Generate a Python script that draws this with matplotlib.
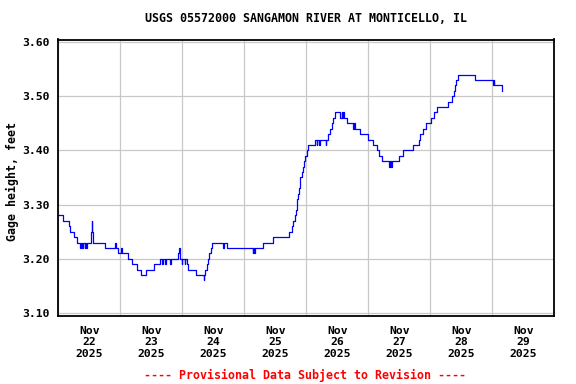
import matplotlib
matplotlib.use('Agg')
import matplotlib.pyplot as plt
import matplotlib.dates as mdates
from matplotlib.ticker import FuncFormatter, MultipleLocator
import datetime as dt

# Gage height step changes: hours after 2025-11-22 00:00 and value (feet)
hours = [0, 2.0, 4.0, 4.75, 6.25, 7.25, 8.5, 9.0, 9.25, 9.75, 10.25, 10.5, 10.75, 11.0,
         12.75, 13.0, 13.25, 13.5, 18.25, 22.0, 22.25, 23.25, 24.25, 24.5, 27.0, 28.75,
         30.5, 32.0, 34.0, 37.0, 39.25, 40.25, 40.5, 41.5, 41.75, 43.25, 43.5,
         46.5, 46.75, 47.0, 47.25, 47.75, 48.0, 49.0, 49.25, 49.75, 50.25, 53.25,
         56.25, 56.5, 57.0, 57.5, 58.0, 58.5, 59.0, 59.5, 63.75, 64.25, 65.25,
         75.25, 75.5, 75.75, 76.0, 79.25, 83.0, 89.5, 90.5, 91.0, 91.5, 92.0, 92.25,
         92.5, 93.0, 93.25, 93.5, 93.75, 94.25, 94.75, 95.25, 95.5, 96.25, 96.75,
         99.5, 100.0, 100.25, 101.0, 101.25, 103.5, 103.75, 104.5, 105.25, 106.0,
         106.5, 107.0, 109.0, 109.75, 110.0, 110.25, 110.5, 111.75, 114.25, 114.5,
         115.0, 116.75, 119.75, 122.0, 123.25, 124.25, 125.25, 128.0, 128.5, 128.75,
         129.0, 131.75, 133.5, 137.5, 139.5, 140.0, 141.25, 142.5, 144.25, 145.25,
         146.75, 150.75, 152.25, 153.0, 153.5, 154.0, 154.75, 161.25, 168.25, 168.5,
         168.75, 171.75]
values = [3.28, 3.27, 3.26, 3.25, 3.24, 3.23, 3.22, 3.23, 3.22, 3.23, 3.22, 3.23, 3.22, 3.23,
          3.25, 3.27, 3.25, 3.23, 3.22, 3.23, 3.22, 3.21, 3.22, 3.21, 3.20, 3.19,
          3.18, 3.17, 3.18, 3.19, 3.20, 3.19, 3.20, 3.19, 3.20, 3.19, 3.20,
          3.21, 3.22, 3.21, 3.20, 3.19, 3.20, 3.19, 3.20, 3.19, 3.18, 3.17,
          3.16, 3.17, 3.18, 3.19, 3.20, 3.21, 3.22, 3.23, 3.22, 3.23, 3.22,
          3.21, 3.22, 3.21, 3.22, 3.23, 3.24, 3.25, 3.26, 3.27, 3.28, 3.29, 3.30,
          3.31, 3.32, 3.33, 3.34, 3.35, 3.36, 3.37, 3.38, 3.39, 3.40, 3.41,
          3.42, 3.41, 3.42, 3.41, 3.42, 3.41, 3.42, 3.43, 3.44, 3.45,
          3.46, 3.47, 3.46, 3.47, 3.46, 3.47, 3.46, 3.45, 3.44, 3.45,
          3.44, 3.43, 3.42, 3.41, 3.40, 3.39, 3.38, 3.37, 3.38, 3.37,
          3.38, 3.39, 3.40, 3.41, 3.42, 3.43, 3.44, 3.45, 3.46, 3.47,
          3.48, 3.49, 3.50, 3.51, 3.52, 3.53, 3.54, 3.53, 3.52, 3.53,
          3.52, 3.51]

yticks = [3.10, 3.20, 3.30, 3.40, 3.50, 3.60]
title = "USGS 05572000 SANGAMON RIVER AT MONTICELLO, IL"
ylabel = "Gage height, feet"
footer = "---- Provisional Data Subject to Revision ----"

start = dt.datetime(2025, 11, 22)
end = dt.datetime(2025, 11, 30)
times = [start + dt.timedelta(hours=h) for h in hours]

FONT = 'DejaVu Sans Mono'
plt.rcParams['font.family'] = FONT
plt.rcParams['font.weight'] = 'bold'

fig = plt.figure(figsize=(5.76, 3.84), dpi=100)
ax = fig.add_axes([58.2 / 576, 1 - 316 / 384, (554.3 - 58.2) / 576, (316 - 39.5) / 384])

ax.plot(times, values, drawstyle='steps-post', color='#0000ff', lw=0.9)

ax.set_xlim(start, end)
ax.set_ylim(3.10 - 3 / 542, 3.60 + 2.5 / 542)

ax.set_yticks(yticks)
ax.set_yticklabels([f"{v:.2f}" for v in yticks])

ax.xaxis.set_major_locator(mdates.HourLocator(byhour=[12]))
ax.xaxis.set_minor_locator(mdates.DayLocator())
ax.xaxis.set_major_formatter(FuncFormatter(
    lambda x, pos: mdates.num2date(x).strftime('%b\n%d\n%Y')))

ax.grid(False)
ax.grid(True, axis='y', which='major', color='#c8c8c8', lw=0.9)
ax.grid(True, axis='x', which='minor', color='#c8c8c8', lw=0.9)
ax.set_axisbelow(True)

ax.tick_params(axis='both', which='both', length=0)
ax.tick_params(axis='y', pad=5.8, labelsize=8.2)
ax.tick_params(axis='x', pad=7.0, labelsize=8.2)
for lab in ax.get_xticklabels() + ax.get_yticklabels():
    lab.set_fontweight('bold')

for s in ax.spines.values():
    s.set_linewidth(1.3)
    s.set_color('black')

fig.text(306 / 576, 1 - 19 / 384, title, ha='center', va='center',
         fontsize=8.4, fontweight='bold', family=FONT)
fig.text(12 / 576, 1 - 182 / 384, ylabel, ha='center', va='center', rotation=90,
         fontsize=8.4, fontweight='bold', family=FONT)
fig.text(305 / 576, 1 - 375 / 384, footer, ha='center', va='center',
         fontsize=8.4, fontweight='bold', color='#ff0000', family=FONT)

fig.savefig('out.png', dpi=100)
